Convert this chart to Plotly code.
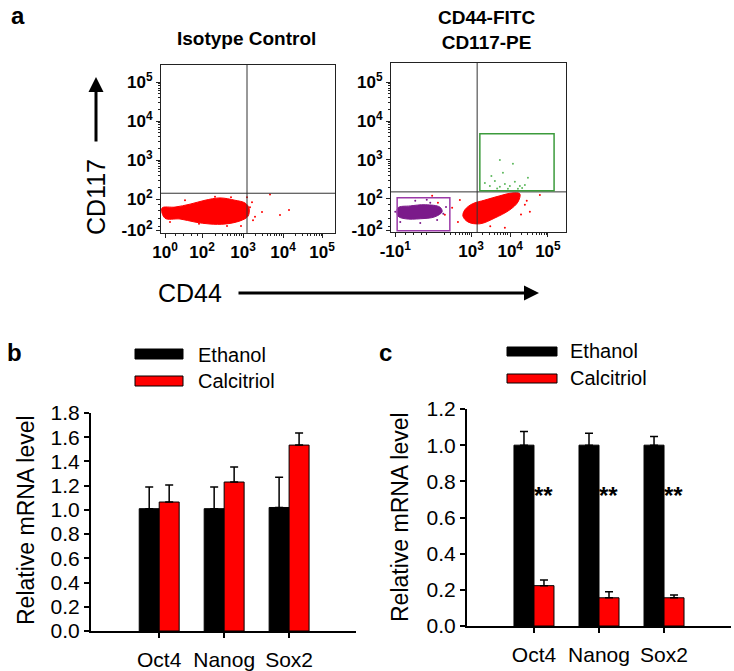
import plotly.graph_objects as go
import math

W, H = 734, 671
FONT = "Arial, Liberation Sans, sans-serif"

# ---------------- data ----------------
genes = ["Oct4", "Nanog", "Sox2"]
b_ethanol = [1.01, 1.01, 1.02]
b_ethanol_err = [0.18, 0.18, 0.25]
b_calcitriol = [1.065, 1.23, 1.535]
b_calcitriol_err = [0.14, 0.125, 0.10]

c_ethanol = [1.0, 1.0, 1.0]
c_ethanol_err = [0.075, 0.066, 0.048]
c_calcitriol = [0.223, 0.156, 0.156]
c_calcitriol_err = [0.031, 0.034, 0.015]
c_sig = ["**", "**", "**"]
c_sig_y = [0.71, 0.71, 0.71]

# flow axes are in display-decade units (biexponential display)
flowL_xticks = [1.05, 1.975, 3.0, 4.0, 4.975]
flowL_xlabels = ["10<sup>0</sup>", "10<sup>2</sup>", "10<sup>3</sup>", "10<sup>4</sup>", "10<sup>5</sup>"]
flowR_xticks = [1.03, 3.0, 4.02, 5.0]
flowR_xlabels = ["-10<sup>1</sup>", "10<sup>3</sup>", "10<sup>4</sup>", "10<sup>5</sup>"]
flow_yticks = [1.2, 2.0, 3.0, 4.0, 5.0]
flow_ylabels = ["-10<sup>2</sup>", "10<sup>2</sup>", "10<sup>3</sup>", "10<sup>4</sup>", "10<sup>5</sup>"]

# gates
gateL_x, gateL_y = 3.1, 2.15
gateR_x, gateR_y = 3.16, 2.18
green_gate = [3.23, 5.16, 2.21, 3.67]   # x0, x1, y0, y1
purple_gate = [1.08, 2.45, 1.18, 2.03]

# dense populations (outline of dot cloud)
isoRed_x = [0.975, 1.3, 1.675, 2.05, 2.425, 2.8, 3.05, 3.15, 3.125, 2.925, 2.55, 2.175, 1.8, 1.425, 1.05, 0.975]
isoRed_y = [1.77, 1.795, 1.87, 1.97, 2.03, 1.97, 1.9, 1.77, 1.56, 1.44, 1.36, 1.36, 1.41, 1.49, 1.51, 1.77]
isoSparse_x = [3.225, 3.475, 3.675, 3.925, 3.25, 3.175, 2.95, 1.175, 1.55, 3.1, 4.15, 3.3, 2.3, 2.7, 1.9, 2.6]
isoSparse_y = [1.92, 1.67, 2.12, 1.59, 1.46, 1.79, 1.31, 1.41, 1.97, 2.05, 1.72, 1.55, 2.06, 2.05, 1.37, 1.31]

posRed_x = [2.84, 3.03, 3.36, 3.75, 4.06, 4.27, 4.22, 4.01, 3.62, 3.23, 2.92, 2.79, 2.84]
posRed_y = [1.72, 1.87, 1.97, 2.08, 2.15, 2.13, 1.92, 1.72, 1.51, 1.36, 1.41, 1.56, 1.72]
posRedSparse_x = [2.14, 2.51, 2.32, 2.71, 4.40, 4.53, 3.88, 4.79, 2.66, 1.99, 4.45, 3.5, 4.3]
posRedSparse_y = [1.90, 1.77, 1.59, 1.97, 1.85, 1.67, 1.26, 2.10, 1.41, 2.08, 1.95, 1.3, 1.6]

purple_x = [1.10, 1.42, 1.81, 2.19, 2.25, 2.06, 1.68, 1.29, 1.10, 1.10]
purple_y = [1.77, 1.82, 1.85, 1.79, 1.67, 1.54, 1.49, 1.49, 1.56, 1.77]
purpleSparse_x = [1.94, 2.19, 2.35, 2.12, 1.68, 1.16, 1.03, 1.55, 2.28, 1.85]
purpleSparse_y = [1.90, 1.72, 1.79, 1.46, 1.38, 1.41, 1.67, 1.95, 1.62, 1.98]

green_x = [3.36, 3.49, 3.62, 3.75, 3.88, 4.01, 4.14, 4.27, 4.40, 3.75, 4.09, 3.83, 3.53, 4.48, 3.96, 4.22, 4.33, 3.68]
green_y = [2.41, 2.33, 2.46, 2.31, 2.38, 2.33, 2.44, 2.33, 2.36, 3.0, 2.9, 2.67, 2.59, 2.54, 2.26, 2.26, 2.28, 2.27]

# ---------------- helpers ----------------
def px(p):
    return p / W

def py(p):
    return 1 - p / H

fig = go.Figure()

RED = "#ff0000"
PURPLE = "#7b1a8a"
GREEN = "#3c9b3c"

# flow left
fig.add_trace(go.Scatter(x=isoRed_x, y=isoRed_y, mode="lines", fill="toself", fillcolor=RED,
                         line=dict(color=RED, width=1, shape="spline"), xaxis="x", yaxis="y", hoverinfo="skip"))
fig.add_trace(go.Scatter(x=isoSparse_x, y=isoSparse_y, mode="markers", marker=dict(color=RED, size=2),
                         xaxis="x", yaxis="y", hoverinfo="skip"))
# flow right
fig.add_trace(go.Scatter(x=posRed_x, y=posRed_y, mode="lines", fill="toself", fillcolor=RED,
                         line=dict(color=RED, width=1, shape="spline"), xaxis="x2", yaxis="y2", hoverinfo="skip"))
fig.add_trace(go.Scatter(x=posRedSparse_x, y=posRedSparse_y, mode="markers", marker=dict(color=RED, size=2),
                         xaxis="x2", yaxis="y2", hoverinfo="skip"))
fig.add_trace(go.Scatter(x=purple_x, y=purple_y, mode="lines", fill="toself", fillcolor=PURPLE,
                         line=dict(color=PURPLE, width=1, shape="spline"), xaxis="x2", yaxis="y2", hoverinfo="skip"))
fig.add_trace(go.Scatter(x=purpleSparse_x, y=purpleSparse_y, mode="markers", marker=dict(color=PURPLE, size=2),
                         xaxis="x2", yaxis="y2", hoverinfo="skip"))
fig.add_trace(go.Scatter(x=green_x, y=green_y, mode="markers", marker=dict(color="#5cb85c", size=2),
                         xaxis="x2", yaxis="y2", hoverinfo="skip"))

# bars b
err_style = dict(type="data", symmetric=False, color="black", thickness=1.5, width=4)
fig.add_trace(go.Bar(x=genes, y=b_ethanol, marker=dict(color="black", line=dict(color="black", width=1)),
                     error_y=dict(array=b_ethanol_err, arrayminus=[0] * 3, **err_style),
                     xaxis="x3", yaxis="y3", offsetgroup="e"))
fig.add_trace(go.Bar(x=genes, y=b_calcitriol, marker=dict(color=RED, line=dict(color="black", width=1)),
                     error_y=dict(array=b_calcitriol_err, arrayminus=[0] * 3, **err_style),
                     xaxis="x3", yaxis="y3", offsetgroup="c"))
# bars c
fig.add_trace(go.Bar(x=genes, y=c_ethanol, marker=dict(color="black", line=dict(color="black", width=1)),
                     error_y=dict(array=c_ethanol_err, arrayminus=[0] * 3, **err_style),
                     xaxis="x4", yaxis="y4", offsetgroup="e"))
fig.add_trace(go.Bar(x=genes, y=c_calcitriol, marker=dict(color=RED, line=dict(color="black", width=1)),
                     error_y=dict(array=c_calcitriol_err, arrayminus=[0] * 3, **err_style),
                     xaxis="x4", yaxis="y4", offsetgroup="c"))
fig.add_trace(go.Scatter(x=genes, y=c_sig_y, mode="text", text=c_sig, textposition="middle right",
                         textfont=dict(family=FONT, size=24, color="black", weight="bold"),
                         xaxis="x4", yaxis="y4", hoverinfo="skip", cliponaxis=False))

# ---------------- axes ----------------
minor_x = []
for d in (2, 3, 4):
    for k in range(2, 10):
        minor_x.append(d + math.log10(k))
minor_low = [1.3, 1.5, 1.7, 1.85]

flow_font = dict(family=FONT, size=17, color="black", weight="bold")

def flow_x(domain, rng, tv, tt):
    return dict(domain=domain, range=rng, tickmode="array", tickvals=tv, ticktext=tt,
                showline=True, mirror=True, linecolor="#222", linewidth=1, ticks="outside",
                ticklen=4, tickcolor="#222", tickfont=flow_font, showgrid=False, zeroline=False,
                automargin=False,
                minor=dict(tickmode="array", tickvals=minor_low + minor_x, ticks="outside", ticklen=2,
                           tickcolor="#222"), fixedrange=True)

def flow_y(domain, rng, anchor):
    return dict(domain=domain, range=rng, tickmode="array", tickvals=flow_yticks, ticktext=flow_ylabels,
                showline=True, mirror=True, linecolor="#222", linewidth=1, ticks="outside",
                ticklen=4, tickcolor="#222", tickfont=flow_font, showgrid=False, zeroline=False,
                anchor=anchor, automargin=False,
                minor=dict(tickmode="array", tickvals=minor_low + minor_x, ticks="outside", ticklen=2,
                           tickcolor="#222"), fixedrange=True)

bar_font = dict(family=FONT, size=21, color="black")

layout = dict(
    width=W, height=H, autosize=False,
    margin=dict(l=0, r=0, t=0, b=0, pad=0, autoexpand=False),
    paper_bgcolor="white", plot_bgcolor="white", showlegend=False,
    barmode="group", bargap=0.385, bargroupgap=0,
    xaxis=flow_x([px(161), px(335)], [0.95, 5.3], flowL_xticks, flowL_xlabels) | dict(anchor="y"),
    yaxis=flow_y([py(233), py(65)], [1.13, 5.44], "x"),
    xaxis2=flow_x([px(391), px(566)], [0.92, 5.47], flowR_xticks, flowR_xlabels) | dict(anchor="y2"),
    yaxis2=flow_y([py(232), py(63)], [1.15, 5.49], "x2"),
    xaxis3=dict(domain=[px(91), px(356)], range=[-1.05, 3.03], anchor="y3", showline=True,
                linecolor="black", linewidth=2, ticks="outside", ticklen=5, tickwidth=1.5,
                tickcolor="black", tickfont=bar_font, ticklabelstandoff=4, showgrid=False,
                automargin=False, fixedrange=True),
    yaxis3=dict(domain=[py(631), py(413)], range=[0, 1.8], anchor="x3", showline=True,
                linecolor="black", linewidth=2, ticks="outside", ticklen=5, tickwidth=1.5,
                tickcolor="black", tickfont=bar_font, dtick=0.2, tick0=0, tickformat=".1f",
                showgrid=False, zeroline=False, automargin=False, fixedrange=True),
    xaxis4=dict(domain=[px(467), px(731)], range=[-1.03, 3.03], anchor="y4", showline=True,
                linecolor="black", linewidth=2, ticks="outside", ticklen=5, tickwidth=1.5,
                tickcolor="black", tickfont=bar_font, ticklabelstandoff=4, showgrid=False,
                automargin=False, fixedrange=True),
    yaxis4=dict(domain=[py(626), py(409)], range=[0, 1.2], anchor="x4", showline=True,
                linecolor="black", linewidth=2, ticks="outside", ticklen=5, tickwidth=1.5,
                tickcolor="black", tickfont=bar_font, dtick=0.2, tick0=0, tickformat=".1f",
                showgrid=False, zeroline=False, automargin=False, fixedrange=True),
)
fig.update_layout(**layout)

# gates
shapes = [
    dict(type="line", xref="x", yref="y domain", x0=gateL_x, x1=gateL_x, y0=0, y1=1, line=dict(color="#333", width=1)),
    dict(type="line", xref="x domain", yref="y", x0=0, x1=1, y0=gateL_y, y1=gateL_y, line=dict(color="#333", width=1)),
    dict(type="line", xref="x2", yref="y2 domain", x0=gateR_x, x1=gateR_x, y0=0, y1=1, line=dict(color="#333", width=1)),
    dict(type="line", xref="x2 domain", yref="y2", x0=0, x1=1, y0=gateR_y, y1=gateR_y, line=dict(color="#333", width=1)),
    dict(type="rect", xref="x2", yref="y2", x0=green_gate[0], x1=green_gate[1], y0=green_gate[2], y1=green_gate[3],
         line=dict(color=GREEN, width=1.5)),
    dict(type="rect", xref="x2", yref="y2", x0=purple_gate[0], x1=purple_gate[1], y0=purple_gate[2], y1=purple_gate[3],
         line=dict(color="#9b3aa8", width=1.5)),
]

# manual legends
def legend_rects(x0, x1, ytop1, ytop2, h):
    return [
        dict(type="rect", xref="paper", yref="paper", x0=px(x0), x1=px(x1), y0=py(ytop1 + h), y1=py(ytop1),
             fillcolor="black", line=dict(color="black", width=1)),
        dict(type="rect", xref="paper", yref="paper", x0=px(x0), x1=px(x1), y0=py(ytop2 + h), y1=py(ytop2),
             fillcolor=RED, line=dict(color="black", width=1)),
    ]

shapes += legend_rects(135, 183, 349, 376, 10)
shapes += legend_rects(507, 557, 347, 374, 9)
fig.update_layout(shapes=shapes)

ann = []
def text(x, y, t, size, bold=False, xanchor="center", angle=0, yanchor="middle"):
    ann.append(dict(x=px(x), y=py(y), xref="paper", yref="paper", text=t, showarrow=False,
                    xanchor=xanchor, yanchor=yanchor, textangle=angle,
                    font=dict(family=FONT, size=size, color="black", weight="bold" if bold else "normal")))

text(18, 16, "a", 24, True)
text(14, 352, "b", 24, True)
text(385, 352, "c", 24, True)
text(246, 38, "Isotype Control", 19, True)
text(486, 30, "CD44-FITC<br>CD117-PE", 19, True)
text(96, 197, "CD117", 25, False, angle=-90)
text(190, 293, "CD44", 25, False)
text(196, 355, "Ethanol", 20, False, xanchor="left")
text(196, 381, "Calcitriol", 20, False, xanchor="left")
text(568, 351, "Ethanol", 20, False, xanchor="left")
text(568, 378, "Calcitriol", 20, False, xanchor="left")
text(26, 520, "Relative mRNA level", 23, False, angle=-90)
text(400, 517, "Relative mRNA level", 23, False, angle=-90)

# arrows
ann.append(dict(x=px(96), y=py(77), xref="paper", yref="paper", ax=0, ay=66, text="", showarrow=True,
                arrowhead=2, arrowsize=1, arrowwidth=3, arrowcolor="black"))
ann.append(dict(x=px(539), y=py(293), xref="paper", yref="paper", ax=-302, ay=0, text="", showarrow=True,
                arrowhead=2, arrowsize=1, arrowwidth=3, arrowcolor="black"))

fig.update_layout(annotations=ann)

fig.write_html("out.html", config={"displayModeBar": False},
               post_script="document.body.style.margin='0px';document.body.style.padding='0px';")
